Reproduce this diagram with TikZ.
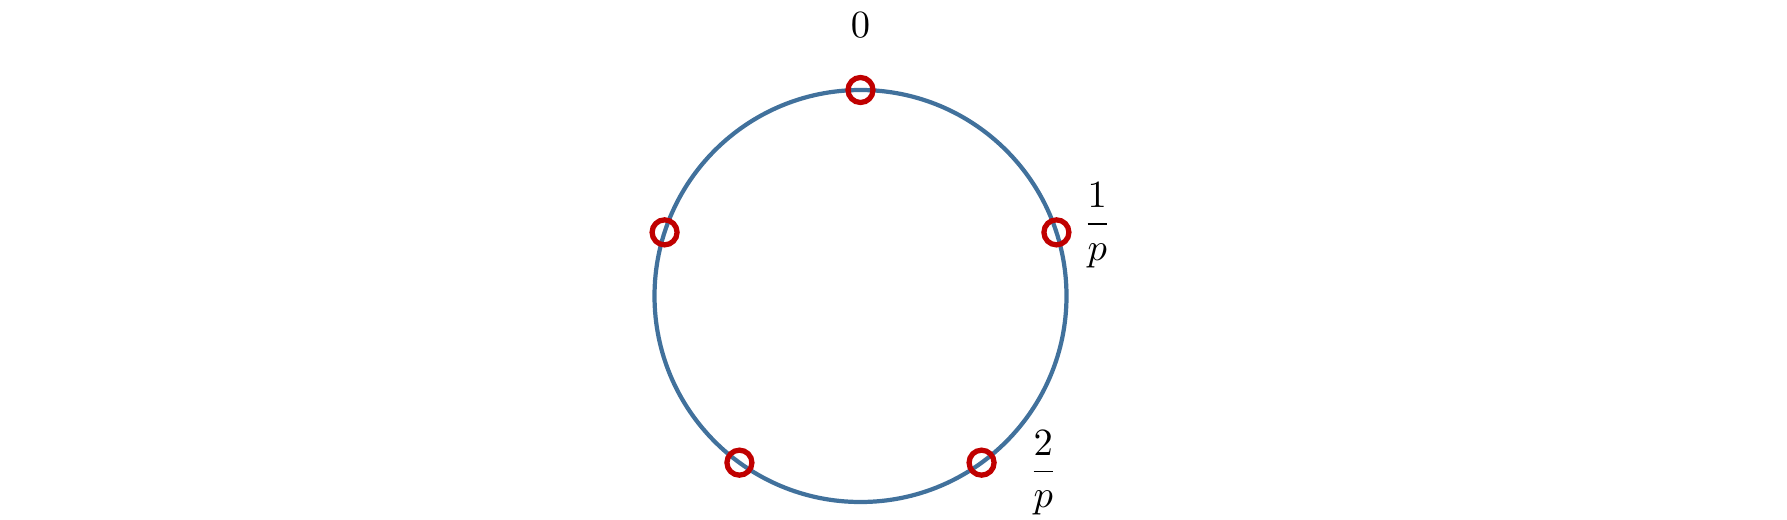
\documentclass[tikz,border=0pt]{standalone}
\usepackage{amsmath}
\usetikzlibrary{positioning}
\definecolor{ringcolor}{RGB}{65,113,156}
\definecolor{dotcolor}{RGB}{192,0,0}

\begin{document}
\begin{tikzpicture}[
  ring/.style={circle,draw=ringcolor,line width=1.2pt,minimum size=4.12cm,
               inner sep=0pt,outer sep=0pt},
  pt/.style={circle,draw=dotcolor,line width=1.5pt,minimum size=0.25cm,inner sep=0pt},
  lbl/.style={font=\fontsize{11}{13}\selectfont,inner sep=2pt}
]
\useasboundingbox (0,0) rectangle (17.87,5.19);
\node[ring] (ring) at (8.605,2.23) {};
\node[pt] (n0) at (ring.90) {};
\node[pt] (n1) at (ring.18) {};
\node[pt] (n2) at (ring.162) {};
\node[pt] (n3) at (ring.-54) {};
\node[pt] (n4) at (ring.234) {};
\node[lbl,above=0.3cm of n0] (l0) {$0$};
\node[lbl,right=0.04cm of n1,yshift=0.07cm] (l1) {$\dfrac{1}{p}$};
\node[lbl,right=0.25cm of n3,yshift=-0.1cm] (l2) {$\dfrac{2}{p}$};
\end{tikzpicture}
\end{document}
